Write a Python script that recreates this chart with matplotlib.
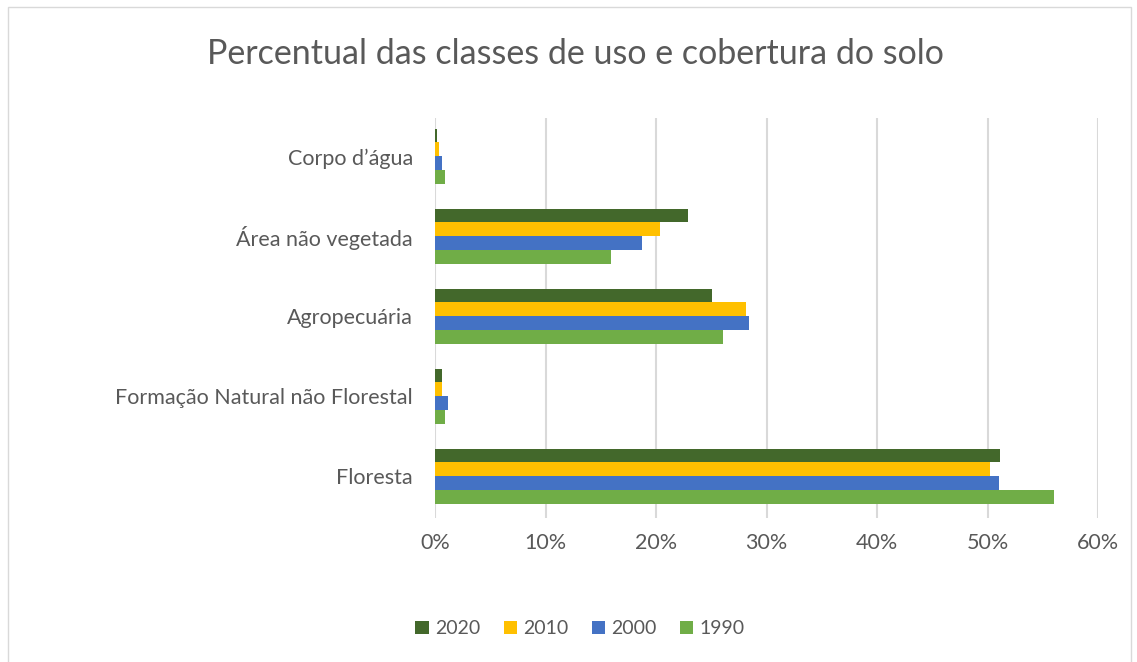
import matplotlib
matplotlib.use("Agg")
import matplotlib.pyplot as plt
from matplotlib.patches import Rectangle
from matplotlib.ticker import FuncFormatter
import numpy as np

categories = ["Floresta", "Formação Natural não Florestal", "Agropecuária",
              "Área não vegetada", "Corpo d’água"]
years = ["2020", "2010", "2000", "1990"]
v2020 = [51.1, 0.6, 25.1, 22.85, 0.15]
v2010 = [50.2, 0.6, 28.1, 20.4, 0.36]
v2000 = [51.0, 1.15, 28.4, 18.7, 0.6]
v1990 = [56.0, 0.94, 26.05, 15.9, 0.94]
series = [v2020, v2010, v2000, v1990]
colors = ["#43682b", "#ffc000", "#4472c4", "#70ad47"]
xticks = [0, 10, 20, 30, 40, 50, 60]

plt.rcParams['font.family'] = ['Lato', 'DejaVu Sans']
fig = plt.figure(figsize=(11.37, 6.62), dpi=100)
ax = fig.add_axes([0.3826, 0.2175, 0.5831, 0.6043])

h = 0.174
y = np.arange(len(categories))
offsets = [1.5 * h, 0.5 * h, -0.5 * h, -1.5 * h]
for vals, col, off, lab in zip(series, colors, offsets, years):
    ax.barh(y + off, vals, height=h, color=col, label=lab, zorder=3)

ax.set_ylim(-0.52, 4.48)
ax.set_xlim(0, 60)
ax.set_xticks(xticks)
ax.xaxis.set_major_formatter(FuncFormatter(lambda v, p: f"{v:.0f}%"))
ax.set_yticks(y)
ax.set_yticklabels(categories)
ax.grid(axis='x', color='#d9d9d9', linewidth=1.5, zorder=0)
for s in ax.spines.values():
    s.set_visible(False)
ax.tick_params(axis='both', length=0, colors='#595959', labelsize=15.5)
ax.tick_params(axis='x', pad=11)
ax.tick_params(axis='y', pad=16)

fig.text(0.506, 0.918, "Percentual das classes de uso e cobertura do solo",
         ha='center', va='center', fontsize=24.5, color='#595959')

handles, labels = ax.get_legend_handles_labels()
fig.legend(handles, labels, loc='center', bbox_to_anchor=(0.51, 0.05), ncol=4,
           frameon=False, fontsize=14, labelcolor='#595959',
           handlelength=0.7, handleheight=0.7, handletextpad=0.3, columnspacing=1.2)

fig.patches.append(Rectangle((0.007, -0.01), 0.988, 1.0, transform=fig.transFigure,
                             fill=False, edgecolor='#d9d9d9', linewidth=1))

fig.savefig("out.png", dpi=100)
